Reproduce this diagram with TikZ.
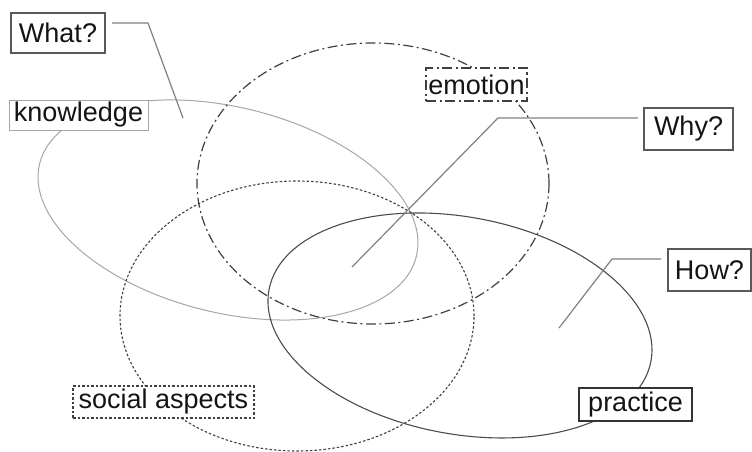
\documentclass[tikz,border=0pt]{standalone}
\usepackage{fontspec}
\setmainfont{Liberation Sans}
\begin{document}
\begin{tikzpicture}[x=1pt,y=-1pt,
  lbl/.style={fill=white, inner sep=0pt, text=black!92, font=\fontsize{27}{31}\selectfont},
  qbox/.style={lbl, draw=black!65, line width=1.2pt},
  lead/.style={draw=black!50, line width=1.2pt},
  dashdot/.style={dash pattern=on 10pt off 3.5pt on 2pt off 3.5pt},
  densedot/.style={dash pattern=on 2.5pt off 2pt},
]
\useasboundingbox (0,0) rectangle (752,452);
% ellipse centres
\coordinate (kc) at (228,210);
\coordinate (ec) at (373,183.5);
\coordinate (sc) at (297,316);
\coordinate (pc) at (460,325.5);
% ellipses
\draw[black!35, line width=1pt, rotate around={-13.8:(kc)}] (kc) ellipse [x radius=194pt, y radius=102.8pt];
\draw[black!75, line width=1.2pt, dashdot] (ec) ellipse [x radius=176pt, y radius=140.5pt];
\draw[black!75, line width=1.1pt, densedot] (sc) ellipse [x radius=177pt, y radius=135pt];
\draw[black!70, line width=1.1pt, rotate around={-10.6:(pc)}] (pc) ellipse [x radius=194.3pt, y radius=108.5pt];
% labels
\node[lbl, draw=black!35, line width=1pt, minimum width=139pt, minimum height=30pt] (knowledge) at (78.5,115) {knowledge};
\node[lbl, draw=black!75, line width=1.2pt, dashdot, minimum width=101pt, minimum height=33pt] (emotion) at (476.5,84.5) {emotion};
\node[lbl, draw=black!75, line width=1.1pt, densedot, minimum width=181pt, minimum height=32pt] (social) at (163.5,402) {social aspects};
\node[lbl, draw=black!80, line width=1.1pt, minimum width=113pt, minimum height=33pt] (practice) at (635.5,404.5) {practice};
\node[qbox, minimum width=94pt, minimum height=40pt] (what) at (58,33) {What?};
\node[qbox, minimum width=89pt, minimum height=42pt] (why) at (688.5,129) {Why?};
\node[qbox, minimum width=83pt, minimum height=42pt] (how) at (709.5,270) {How?};
% leader lines
\coordinate (wa) at (112,23);
\coordinate (wb) at (148,23);
\coordinate (wc) at (183,118);
\coordinate (ya) at (638,118);
\coordinate (yb) at (498,118);
\coordinate (yc) at (352,267);
\coordinate (ha) at (661,259);
\coordinate (hb) at (612,259);
\coordinate (hc) at (559,328);
\draw[lead] (wa) -- (wb) -- (wc);
\draw[lead] (ya) -- (yb) -- (yc);
\draw[lead] (ha) -- (hb) -- (hc);
\end{tikzpicture}
\end{document}
